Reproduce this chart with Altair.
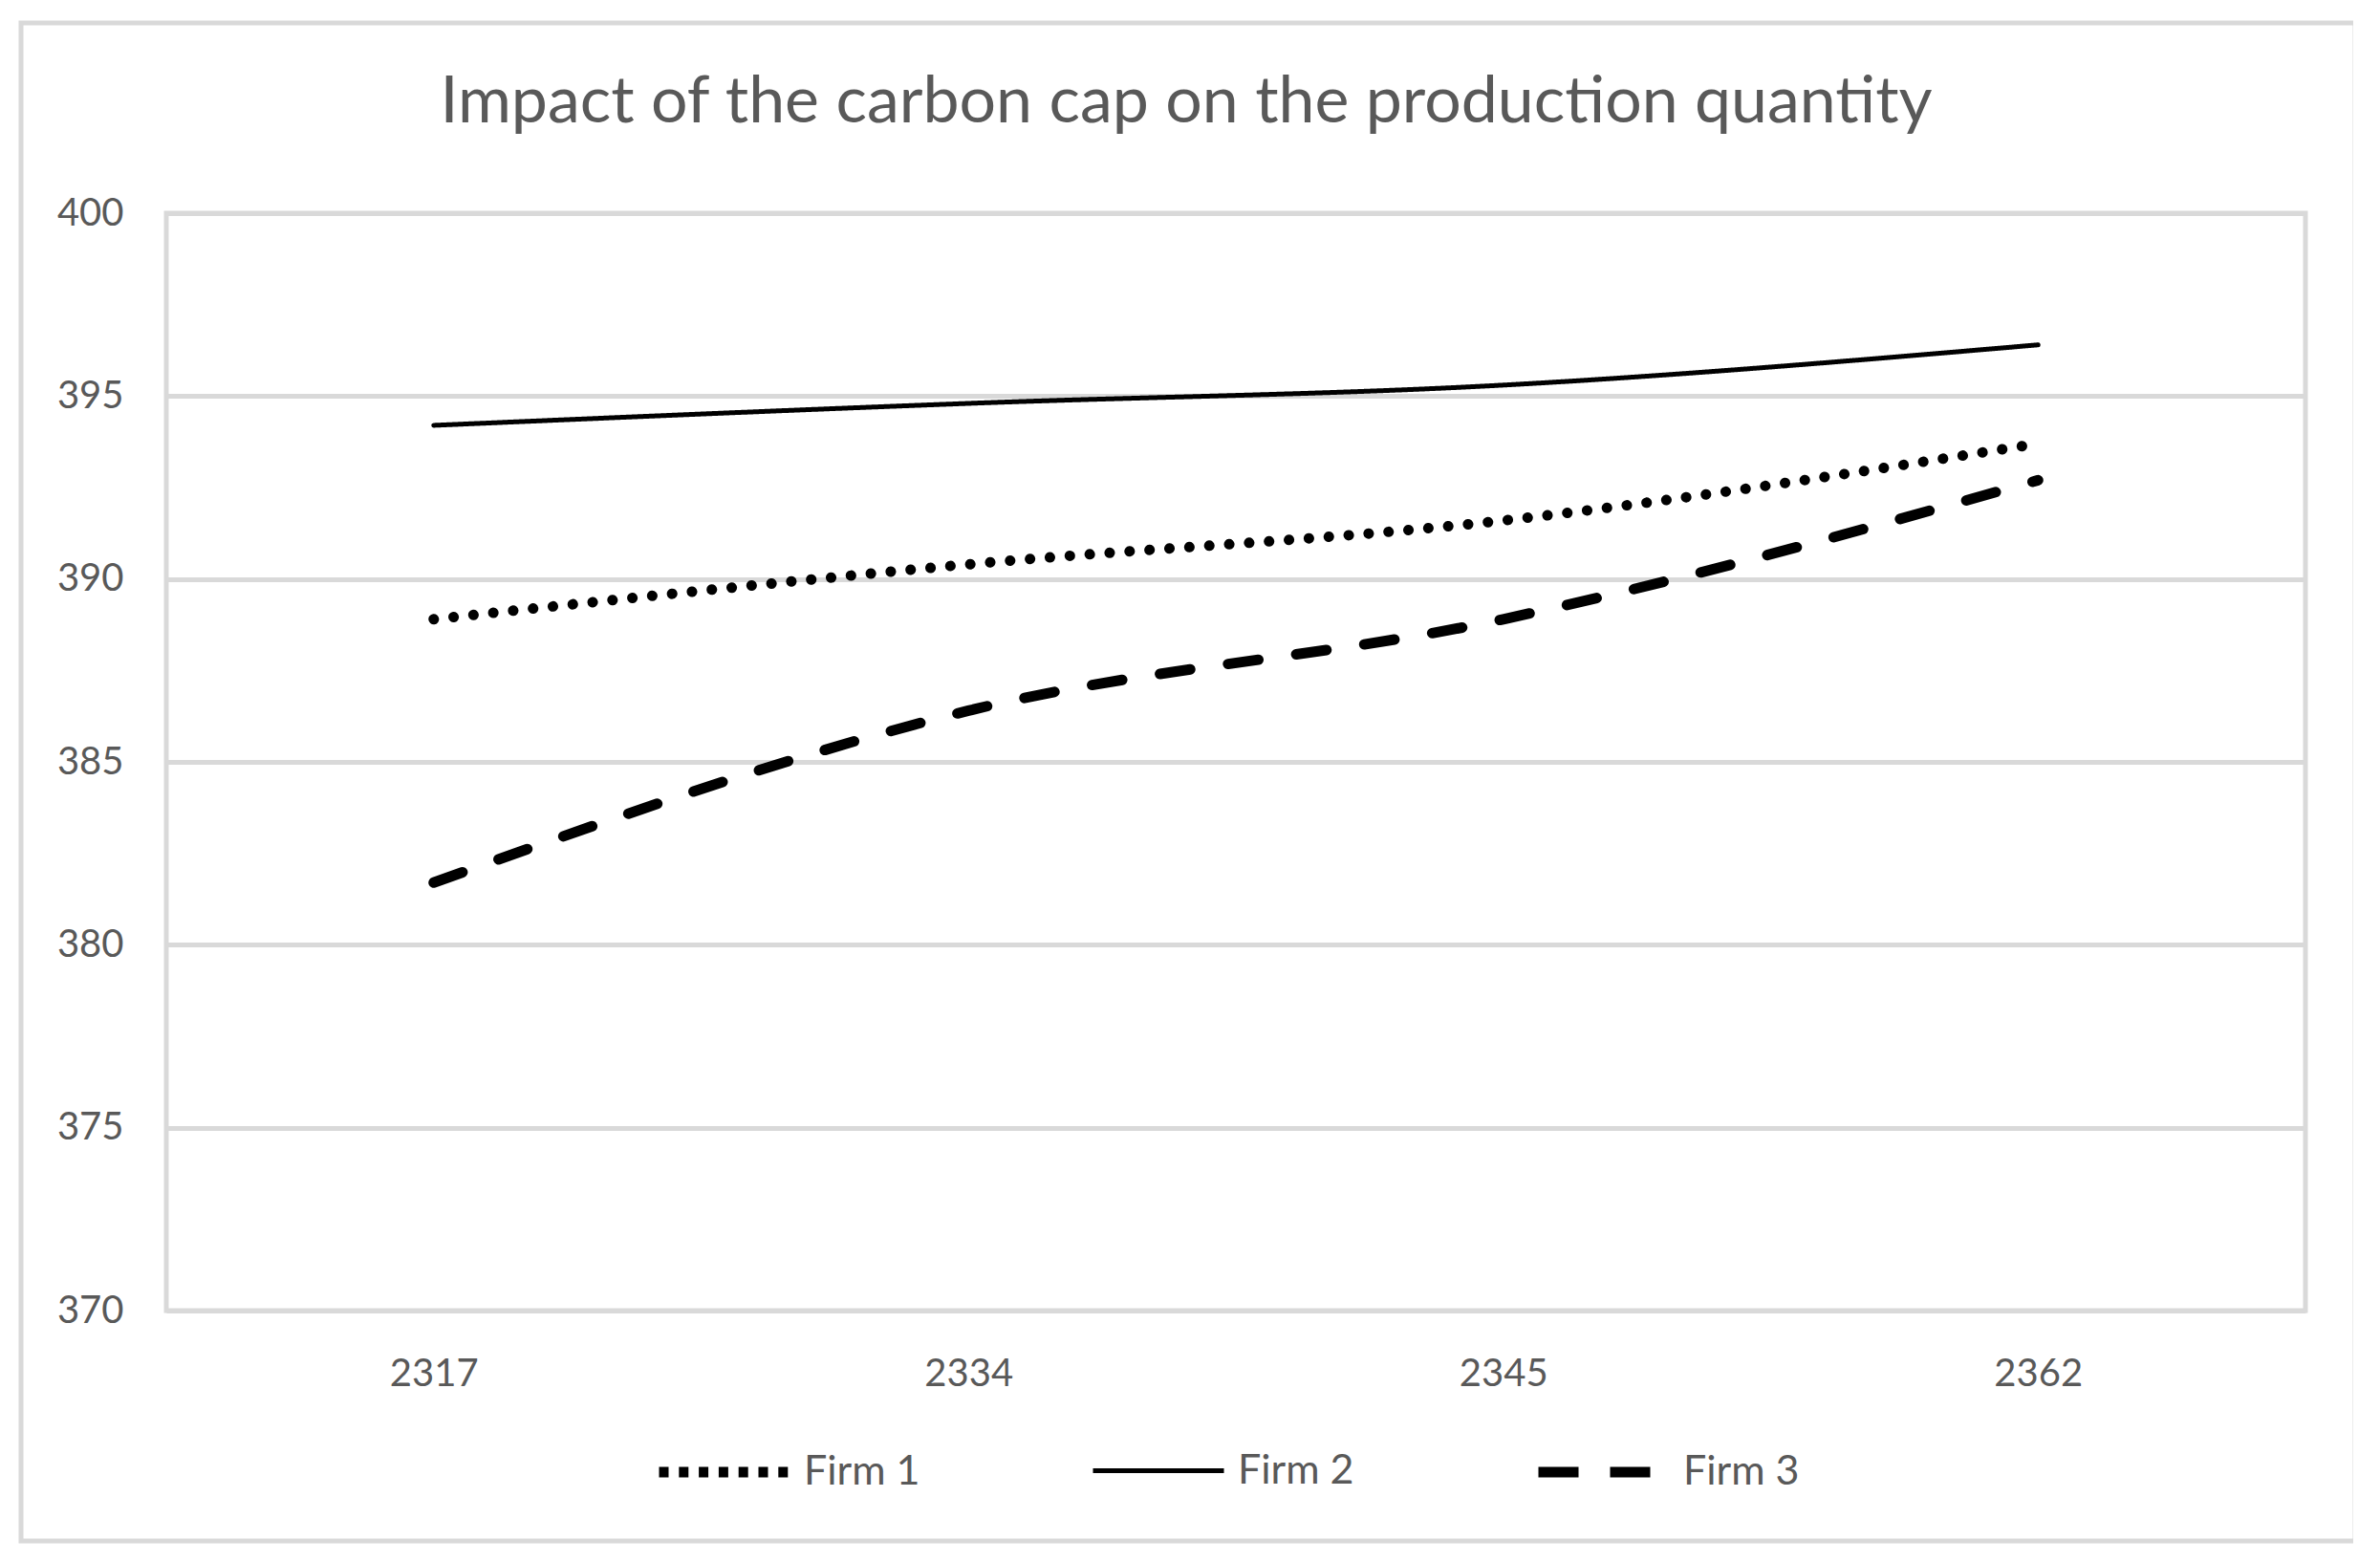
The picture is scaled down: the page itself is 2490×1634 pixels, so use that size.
import altair as alt
import pandas as pd

caps = ["2317", "2334", "2345", "2362"]
series = ["Firm 1", "Firm 2", "Firm 3"]
firm1 = [388.9, 390.4, 391.6, 393.7]
firm2 = [394.2, 394.8, 395.3, 396.4]
firm3 = [381.7, 386.4, 388.9, 392.7]
y_ticks = [370, 375, 380, 385, 390, 395, 400]

rows = []
for name, vals in zip(series, [firm1, firm2, firm3]):
    for c, v in zip(caps, vals):
        rows.append({"cap": c, "qty": v, "firm": name})
df = pd.DataFrame(rows)

W, H = 2238, 1148
TEXT = "#595959"
GRID = "#d9d9d9"
FONT = "Lato"

border = alt.Chart(pd.DataFrame({"a": [0]})).mark_rect(
    filled=False, stroke=GRID, strokeWidth=5
).encode(
    x=alt.value(-152), x2=alt.value(2290), y=alt.value(-199), y2=alt.value(1389)
)

x_enc = alt.X("cap:O", sort=caps, scale=alt.Scale(type="point", padding=0.5),
              axis=alt.Axis(title=None, labelAngle=0, ticks=False, domain=False, grid=False,
                            labelBaseline="middle", labelPadding=66))
y_enc = alt.Y("qty:Q", scale=alt.Scale(domain=[370, 400], nice=False, zero=False),
              axis=alt.Axis(title=None, values=y_ticks, ticks=False, domain=False, grid=True,
                            gridColor=GRID, gridWidth=5, labelPadding=45))

base = alt.Chart(df)

# Firm 1: round dots
line1 = base.transform_filter(alt.datum.firm == "Firm 1").mark_line(
    interpolate="monotone", strokeCap="round", strokeJoin="round", color="black",
    strokeWidth=11, strokeDash=[0.1, 20.8]
).encode(x=x_enc, y=y_enc)

# Firm 3: rounded dashes
line3 = base.transform_filter(alt.datum.firm == "Firm 3").mark_line(
    interpolate="monotone", strokeCap="round", strokeJoin="round", color="black",
    strokeWidth=11, strokeDash=[32, 40]
).encode(x=x_enc, y=y_enc)

# Firm 2: solid; this layer also carries the legend for all three firms
line2 = base.transform_filter(alt.datum.firm == "Firm 2").mark_line(
    interpolate="monotone", strokeCap="round", strokeJoin="round", color="black"
).encode(
    x=x_enc,
    y=y_enc,
    strokeDash=alt.StrokeDash("firm:N", sort=series,
                              scale=alt.Scale(domain=series, range=[[10, 10.8], [1, 0], [42, 33]]),
                              legend=alt.Legend(title=None)),
    strokeWidth=alt.StrokeWidth("firm:N", sort=series,
                                scale=alt.Scale(type="ordinal", domain=series, range=[11, 5, 11]),
                                legend=alt.Legend(title=None)),
)

chart = alt.layer(border, line1, line2, line3).properties(
    width=W, height=H,
    background="white",
    autosize=alt.AutoSizeParams(type="none"),
    padding={"left": 166, "top": 215, "right": 50, "bottom": 250},
    title=alt.Title("Impact of the carbon cap on the production quantity",
                    font=FONT, fontSize=68, fontWeight="normal", color=TEXT,
                    anchor="middle", frame="group", baseline="middle",
                    offset=-154, dx=-52),
).configure_view(
    stroke=GRID, strokeWidth=5
).configure_axis(
    labelFont=FONT, labelFontSize=40, labelColor=TEXT
).configure_legend(
    orient="none", legendX=510, legendY=1243, direction="horizontal",
    symbolType="stroke", symbolSize=18769, symbolStrokeColor="black",
    labelFont=FONT, labelFontSize=43, labelColor=TEXT, labelOffset=9,
    columnPadding=170, columns=3
)

chart.save("out.html", embed_options={"renderer": "svg", "actions": False})
